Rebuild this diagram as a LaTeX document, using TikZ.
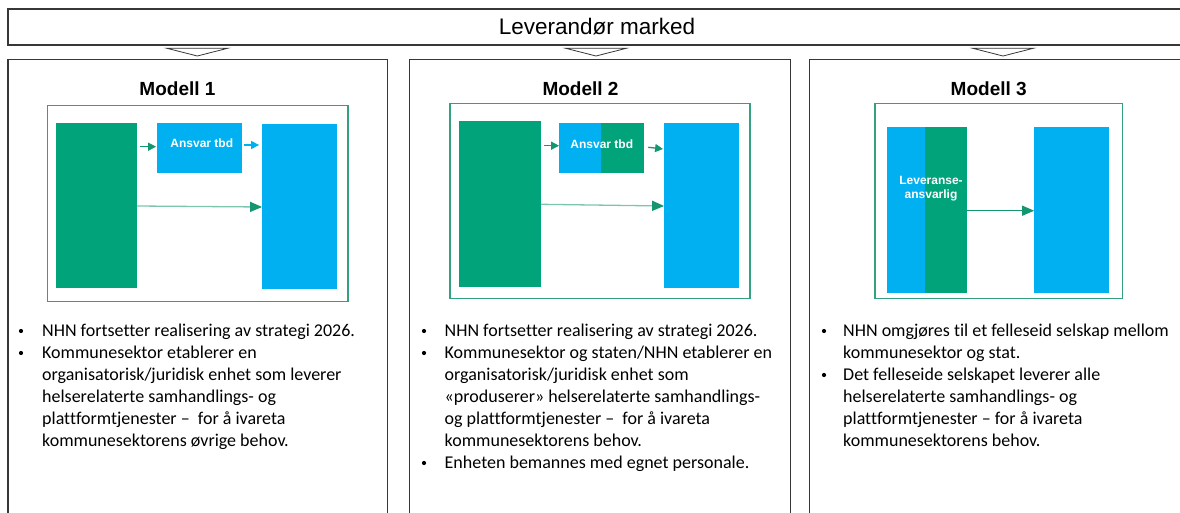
\documentclass[tikz,border=0pt]{standalone}
\usepackage{fontspec}
\setmainfont{Liberation Sans}
\newfontfamily\bodyfont[Ligatures=NoCommon]{Carlito}
\usetikzlibrary{arrows.meta}
\definecolor{nhngreen}{RGB}{0,163,122}
\definecolor{nhnblue}{RGB}{0,176,240}
\definecolor{boxgreen}{RGB}{52,160,130}
\definecolor{arrowgreen}{RGB}{20,150,112}
\definecolor{framegray}{RGB}{55,55,55}

\begin{document}
\begin{tikzpicture}[x=1pt, y=-1pt,
        frame/.style={draw=framegray, line width=1.1pt},
        innerbox/.style={rectangle, draw=boxgreen, line width=1.2pt, inner sep=0pt},
        gbar/.style={rectangle, fill=nhngreen, inner sep=0pt},
        bbar/.style={rectangle, fill=nhnblue, inner sep=0pt},
        boxlabel/.style={text=white, font=\bfseries\fontsize{12}{14}\selectfont, inner sep=0pt},
        modtitle/.style={font=\bfseries\fontsize{19}{22}\selectfont, anchor=base, inner sep=0pt},
        arr/.style={draw=arrowgreen, line width=1.3pt, -{Triangle[length=8pt,width=8pt]}},
        longarr/.style={draw=arrowgreen!55, line width=1.3pt, -{Triangle[length=12pt,width=10pt,color=arrowgreen]}},
        bodytxt/.style={font=\bodyfont\fontsize{18}{22}\selectfont, anchor=base west, inner sep=0pt},
        bulletmark/.style={circle, fill=black, inner sep=0pt, minimum size=4.2pt},
    ]
    \useasboundingbox (0,0) rectangle (1180,513);
    \clip (0,0) rectangle (1180,513);

    % market bar on top
    \draw[frame] (8,9) rectangle (1190,45);
    \node[font=\fontsize{22.5}{26}\selectfont, anchor=base, inner sep=0pt] (market) at (597,35) {Leverandør marked};
    \foreach \cx in {197.3, 596, 1003}
        \draw[draw=framegray, fill=white, line width=0.8pt] (\cx-30.3,48.3) -- (\cx+30.3,48.3) -- (\cx,56) -- cycle;

    % the three panels
    \draw[frame] (8,59.3) rectangle (387.7,530);
    \draw[frame] (409.3,59.3) rectangle (790.7,530);
    \draw[frame] (809.3,59.3) rectangle (1190,530);

    \node[modtitle] (t1) at (177.5,96) {Modell 1};
    \node[modtitle] (t2) at (580.5,96) {Modell 2};
    \node[modtitle] (t3) at (988.7,96) {Modell 3};

    % Modell 1
    \node[innerbox, minimum width=300.7pt, minimum height=196pt] (m1box) at (197.7,203.7) {};
    \node[gbar, minimum width=80.7pt, minimum height=165.3pt] (m1src) at (96.3,205.3) {};
    \node[bbar, minimum width=84.4pt, minimum height=50pt] (m1mid) at (199.5,147.7) {};
    \node[bbar, minimum width=74.4pt, minimum height=165.3pt] (m1dst) at (299.5,206.7) {};
    \node[boxlabel, anchor=base] (m1lab) at (201.8,147.3) {Ansvar tbd};
    \draw[arr] ([xshift=3pt]m1src.east |- 0,146.7) -- ([xshift=-1pt]m1mid.west |- 0,146.7);
    \draw[arr, draw=nhnblue] ([xshift=2pt]m1mid.east |- 0,145) -- ([xshift=-3pt]m1dst.west |- 0,145);
    \draw[longarr] (m1src.east |- 0,206) -- (m1dst.west |- 0,207);

    % Modell 2
    \node[innerbox, minimum width=300pt, minimum height=195pt] (m2box) at (600,200.8) {};
    \node[gbar, minimum width=81.4pt, minimum height=166.3pt] (m2src) at (500,204.2) {};
    \node[bbar, minimum width=42pt, minimum height=50pt] (m2mida) at (580.3,147.7) {};
    \node[gbar, minimum width=42.7pt, minimum height=50pt] (m2midb) at (622.7,147.7) {};
    \node[bbar, minimum width=74.4pt, minimum height=165.6pt] (m2dst) at (701.5,205.5) {};
    \node[boxlabel, anchor=base] (m2lab) at (601.8,148.3) {Ansvar tbd};
    \draw[arr] ([xshift=3pt]m2src.east |- 0,145.7) -- (m2mida.west |- 0,145.7);
    \draw[arr] ([xshift=4pt]m2midb.east |- 0,147.3) -- ([xshift=-1pt]m2dst.west |- 0,149);
    \draw[longarr] (m2src.east |- 0,204.3) -- (m2dst.west |- 0,206);

    % Modell 3
    \node[innerbox, minimum width=247.3pt, minimum height=195pt] (m3box) at (998.7,200.8) {};
    \node[bbar, minimum width=38.3pt, minimum height=165.4pt] (m3srca) at (905.9,210) {};
    \node[gbar, minimum width=41.7pt, minimum height=165.4pt] (m3srcb) at (945.9,210) {};
    \node[bbar, minimum width=74.7pt, minimum height=165.4pt] (m3dst) at (1071.7,210) {};
    \node[boxlabel, align=center] (m3lab) at (931,189) {Leveranse-\\ansvarlig};
    \draw[longarr, draw=arrowgreen] (m3srcb.east |- 0,210.7) -- (m3dst.west |- 0,210.7);

    % bullet texts
    \foreach \t [count=\i from 0] in {NHN fortsetter realisering av strategi 2026.,
            Kommunesektor etablerer en,
            organisatorisk/juridisk enhet som leverer,
            helserelaterte samhandlings- og,
            plattformtjenester –\ \ for å ivareta,
            kommunesektorens øvrige behov.}
        \node[bodytxt] (p1l\i) at (42,336+22*\i) {\t};
    \foreach \i in {0,1}
        \node[bulletmark] (p1b\i) at (21,331+22*\i) {};

    \foreach \t [count=\i from 0] in {NHN fortsetter realisering av strategi 2026.,
            Kommunesektor og staten/NHN etablerer en,
            organisatorisk/juridisk enhet som,
            «produserer» helserelaterte samhandlings-,
            og plattformtjenester –\ \ for å ivareta,
            kommunesektorens behov.,
            Enheten bemannes med egnet personale.}
        \node[bodytxt] (p2l\i) at (444.5,336+22*\i) {\t};
    \foreach \i in {0,1,6}
        \node[bulletmark] (p2b\i) at (424,331+22*\i) {};

    \foreach \t [count=\i from 0] in {NHN omgjøres til et felleseid selskap mellom,
            kommunesektor og stat.,
            Det felleseide selskapet leverer alle,
            helserelaterte samhandlings- og,
            plattformtjenester – for å ivareta,
            kommunesektorens behov.}
        \node[bodytxt] (p3l\i) at (843,336+22*\i) {\t};
    \foreach \i in {0,2}
        \node[bulletmark] (p3b\i) at (824,331+22*\i) {};

\end{tikzpicture}
\end{document}
